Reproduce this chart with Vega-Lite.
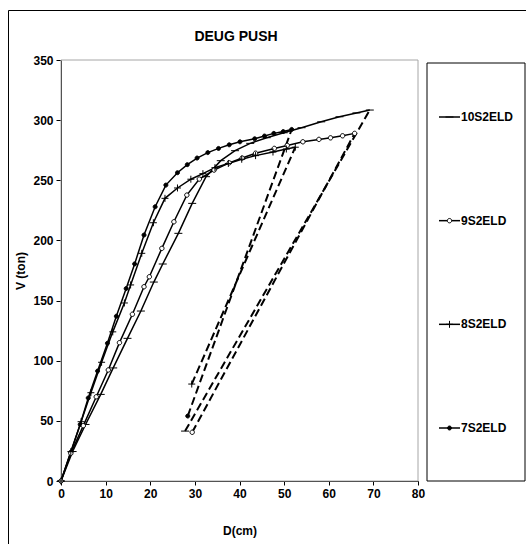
{
  "$schema": "https://vega.github.io/schema/vega-lite/v6.json",
  "width": 518,
  "height": 534,
  "autosize": {"type": "none"},
  "padding": {"left": 8, "top": 10, "right": 0, "bottom": 0},
  "background": "white",
  "title": {"text": "DEUG PUSH", "frame": "group", "anchor": "middle", "orient": "top", "offset": 0, "dx": -31, "dy": 45, "baseline": "alphabetic", "font": "Liberation Sans", "fontSize": 14, "fontWeight": "bold", "color": "black"},
  "datasets": {
    "series": [{"s": "10S2ELD"}, {"s": "9S2ELD"}, {"s": "8S2ELD"}, {"s": "7S2ELD"}],
    "curves": [
      {"s": "7S2ELD", "i": 0, "x": 0, "y": 0},
      {"s": "7S2ELD", "i": 1, "x": 2.2, "y": 24},
      {"s": "7S2ELD", "i": 2, "x": 4.3, "y": 47},
      {"s": "7S2ELD", "i": 3, "x": 6.1, "y": 69},
      {"s": "7S2ELD", "i": 4, "x": 8.2, "y": 91.4},
      {"s": "7S2ELD", "i": 5, "x": 10.4, "y": 114.5},
      {"s": "7S2ELD", "i": 6, "x": 12.4, "y": 137},
      {"s": "7S2ELD", "i": 7, "x": 14.6, "y": 160},
      {"s": "7S2ELD", "i": 8, "x": 16.5, "y": 180.5},
      {"s": "7S2ELD", "i": 9, "x": 18.6, "y": 204.5},
      {"s": "7S2ELD", "i": 10, "x": 21.1, "y": 228},
      {"s": "7S2ELD", "i": 11, "x": 23.5, "y": 246},
      {"s": "7S2ELD", "i": 12, "x": 26.1, "y": 256.3},
      {"s": "7S2ELD", "i": 13, "x": 28.3, "y": 263},
      {"s": "7S2ELD", "i": 14, "x": 30.5, "y": 268.5},
      {"s": "7S2ELD", "i": 15, "x": 32.9, "y": 273},
      {"s": "7S2ELD", "i": 16, "x": 35.3, "y": 276.5},
      {"s": "7S2ELD", "i": 17, "x": 37.7, "y": 279.5},
      {"s": "7S2ELD", "i": 18, "x": 40.1, "y": 282},
      {"s": "7S2ELD", "i": 19, "x": 43.4, "y": 284.5},
      {"s": "7S2ELD", "i": 20, "x": 45.6, "y": 286.8},
      {"s": "7S2ELD", "i": 21, "x": 47.7, "y": 289},
      {"s": "7S2ELD", "i": 22, "x": 49.8, "y": 290.5},
      {"s": "7S2ELD", "i": 23, "x": 51.7, "y": 292.3},
      {"s": "10S2ELD", "i": 0, "x": 0, "y": 0},
      {"s": "10S2ELD", "i": 1, "x": 2.6, "y": 24.5},
      {"s": "10S2ELD", "i": 2, "x": 5.5, "y": 47},
      {"s": "10S2ELD", "i": 3, "x": 8.9, "y": 72},
      {"s": "10S2ELD", "i": 4, "x": 11.7, "y": 94},
      {"s": "10S2ELD", "i": 5, "x": 14.9, "y": 118.6},
      {"s": "10S2ELD", "i": 6, "x": 17.9, "y": 141.3},
      {"s": "10S2ELD", "i": 7, "x": 20.8, "y": 165.4},
      {"s": "10S2ELD", "i": 8, "x": 22.8, "y": 180.4},
      {"s": "10S2ELD", "i": 9, "x": 26.3, "y": 205.9},
      {"s": "10S2ELD", "i": 10, "x": 29.4, "y": 230.8},
      {"s": "10S2ELD", "i": 11, "x": 32.5, "y": 253},
      {"s": "10S2ELD", "i": 12, "x": 35.8, "y": 266.3},
      {"s": "10S2ELD", "i": 13, "x": 39, "y": 274.6},
      {"s": "10S2ELD", "i": 14, "x": 42.4, "y": 280.7},
      {"s": "10S2ELD", "i": 15, "x": 46.1, "y": 285.4},
      {"s": "10S2ELD", "i": 16, "x": 49.9, "y": 289.5},
      {"s": "10S2ELD", "i": 17, "x": 53.9, "y": 293.7},
      {"s": "10S2ELD", "i": 18, "x": 58.3, "y": 298.6},
      {"s": "10S2ELD", "i": 19, "x": 62.4, "y": 302.8},
      {"s": "10S2ELD", "i": 20, "x": 66.2, "y": 306},
      {"s": "10S2ELD", "i": 21, "x": 69.2, "y": 308.4},
      {"s": "9S2ELD", "i": 0, "x": 0, "y": 0},
      {"s": "9S2ELD", "i": 1, "x": 2.2, "y": 23},
      {"s": "9S2ELD", "i": 2, "x": 5, "y": 46},
      {"s": "9S2ELD", "i": 3, "x": 7.9, "y": 70},
      {"s": "9S2ELD", "i": 4, "x": 10.6, "y": 92.3},
      {"s": "9S2ELD", "i": 5, "x": 13.1, "y": 115},
      {"s": "9S2ELD", "i": 6, "x": 16, "y": 138.6},
      {"s": "9S2ELD", "i": 7, "x": 18.6, "y": 161.5},
      {"s": "9S2ELD", "i": 8, "x": 19.8, "y": 169.8},
      {"s": "9S2ELD", "i": 9, "x": 22.6, "y": 193.4},
      {"s": "9S2ELD", "i": 10, "x": 25.3, "y": 215.5},
      {"s": "9S2ELD", "i": 11, "x": 28.2, "y": 237.7},
      {"s": "9S2ELD", "i": 12, "x": 31, "y": 251},
      {"s": "9S2ELD", "i": 13, "x": 34.3, "y": 258.5},
      {"s": "9S2ELD", "i": 14, "x": 37.7, "y": 264.5},
      {"s": "9S2ELD", "i": 15, "x": 40.6, "y": 268.5},
      {"s": "9S2ELD", "i": 16, "x": 43.6, "y": 272.5},
      {"s": "9S2ELD", "i": 17, "x": 47.8, "y": 276.5},
      {"s": "9S2ELD", "i": 18, "x": 50.7, "y": 279},
      {"s": "9S2ELD", "i": 19, "x": 54.2, "y": 282},
      {"s": "9S2ELD", "i": 20, "x": 57.8, "y": 284},
      {"s": "9S2ELD", "i": 21, "x": 60.4, "y": 285.3},
      {"s": "9S2ELD", "i": 22, "x": 63.1, "y": 287},
      {"s": "9S2ELD", "i": 23, "x": 65.8, "y": 289},
      {"s": "8S2ELD", "i": 0, "x": 0, "y": 0},
      {"s": "8S2ELD", "i": 1, "x": 2.2, "y": 24.4},
      {"s": "8S2ELD", "i": 2, "x": 4.5, "y": 49.3},
      {"s": "8S2ELD", "i": 3, "x": 6.7, "y": 73.4},
      {"s": "8S2ELD", "i": 4, "x": 9.1, "y": 98.7},
      {"s": "8S2ELD", "i": 5, "x": 11.6, "y": 124},
      {"s": "8S2ELD", "i": 6, "x": 14.2, "y": 148},
      {"s": "8S2ELD", "i": 7, "x": 15.6, "y": 163},
      {"s": "8S2ELD", "i": 8, "x": 18.1, "y": 189.3},
      {"s": "8S2ELD", "i": 9, "x": 20.7, "y": 214.7},
      {"s": "8S2ELD", "i": 10, "x": 23.3, "y": 235},
      {"s": "8S2ELD", "i": 11, "x": 26.1, "y": 243.6},
      {"s": "8S2ELD", "i": 12, "x": 29.1, "y": 250.9},
      {"s": "8S2ELD", "i": 13, "x": 31.8, "y": 255.5},
      {"s": "8S2ELD", "i": 14, "x": 34.5, "y": 260.5},
      {"s": "8S2ELD", "i": 15, "x": 37.5, "y": 264},
      {"s": "8S2ELD", "i": 16, "x": 40.5, "y": 267.5},
      {"s": "8S2ELD", "i": 17, "x": 43.6, "y": 270.5},
      {"s": "8S2ELD", "i": 18, "x": 47.5, "y": 273.5},
      {"s": "8S2ELD", "i": 19, "x": 50.5, "y": 276},
      {"s": "8S2ELD", "i": 20, "x": 52.5, "y": 277.5}
    ],
    "unload": [
      {"s": "10S2ELD", "pt": "start", "x": 69.2, "y": 308.4},
      {"s": "10S2ELD", "pt": "end", "x": 27.8, "y": 41.5},
      {"s": "9S2ELD", "pt": "start", "x": 65.8, "y": 289},
      {"s": "9S2ELD", "pt": "end", "x": 29.4, "y": 40.5},
      {"s": "8S2ELD", "pt": "start", "x": 52.5, "y": 277.5},
      {"s": "8S2ELD", "pt": "end", "x": 29.3, "y": 80.6},
      {"s": "7S2ELD", "pt": "start", "x": 51.7, "y": 292.3},
      {"s": "7S2ELD", "pt": "end", "x": 28.4, "y": 54}
    ]
  },
  "layer": [
    {
      "layer": [
        {
          "data": {"values": [{"frame": "plot"}]},
          "mark": {"type": "rect", "filled": false, "stroke": "#a6a6a6", "strokeWidth": 1},
          "encoding": {
            "x": {"datum": 0, "type": "quantitative", "scale": {"domain": [0, 80], "range": [53, 410], "nice": false, "zero": false}, "axis": {"title": "D(cm)", "values": [0, 10, 20, 30, 40, 50, 60, 70, 80], "offset": -63, "labelFlush": false}},
            "x2": {"datum": 80},
            "y": {"datum": 0, "type": "quantitative", "scale": {"domain": [0, 350], "range": [471, 50], "nice": false, "zero": false}, "axis": {"title": "V (ton)", "values": [0, 50, 100, 150, 200, 250, 300, 350], "offset": -53, "labelFlush": false}},
            "y2": {"datum": 350}
          }
        },
        {
          "data": {"name": "curves"},
          "mark": {"type": "line", "stroke": "black", "strokeWidth": 1.5},
          "encoding": {
            "x": {"field": "x", "type": "quantitative", "scale": {"domain": [0, 80], "range": [53, 410], "nice": false, "zero": false}, "axis": {"title": "D(cm)", "values": [0, 10, 20, 30, 40, 50, 60, 70, 80], "offset": -63, "labelFlush": false}},
            "y": {"field": "y", "type": "quantitative", "scale": {"domain": [0, 350], "range": [471, 50], "nice": false, "zero": false}, "axis": {"title": "V (ton)", "values": [0, 50, 100, 150, 200, 250, 300, 350], "offset": -53, "labelFlush": false}},
            "detail": {"field": "s", "type": "nominal"},
            "order": {"field": "i", "type": "quantitative"}
          }
        },
        {
          "data": {"name": "unload"},
          "mark": {"type": "line", "stroke": "black", "strokeWidth": 2, "strokeDash": [8, 4]},
          "encoding": {
            "x": {"field": "x", "type": "quantitative", "scale": {"domain": [0, 80], "range": [53, 410], "nice": false, "zero": false}, "axis": {"title": "D(cm)", "values": [0, 10, 20, 30, 40, 50, 60, 70, 80], "offset": -63, "labelFlush": false}},
            "y": {"field": "y", "type": "quantitative", "scale": {"domain": [0, 350], "range": [471, 50], "nice": false, "zero": false}, "axis": {"title": "V (ton)", "values": [0, 50, 100, 150, 200, 250, 300, 350], "offset": -53, "labelFlush": false}},
            "detail": {"field": "s", "type": "nominal"}
          }
        },
        {
          "data": {"name": "curves"},
          "mark": {"type": "point", "stroke": "black", "strokeWidth": 1, "opacity": 1, "size": 64},
          "encoding": {
            "x": {"field": "x", "type": "quantitative", "scale": {"domain": [0, 80], "range": [53, 410], "nice": false, "zero": false}, "axis": {"title": "D(cm)", "values": [0, 10, 20, 30, 40, 50, 60, 70, 80], "offset": -63, "labelFlush": false}},
            "y": {"field": "y", "type": "quantitative", "scale": {"domain": [0, 350], "range": [471, 50], "nice": false, "zero": false}, "axis": {"title": "V (ton)", "values": [0, 50, 100, 150, 200, 250, 300, 350], "offset": -53, "labelFlush": false}},
            "shape": {"field": "s", "type": "nominal", "scale": {"domain": ["10S2ELD", "9S2ELD", "8S2ELD", "7S2ELD"], "range": ["M-1,0H1", "M0.55,0A0.55,0.55,0,1,1,-0.55,0A0.55,0.55,0,1,1,0.55,0Z", "M-0.875,0H0.875M0,-0.875V0.875", "M0.5,0A0.5,0.5,0,1,1,-0.5,0A0.5,0.5,0,1,1,0.5,0Z"]}, "legend": null},
            "fill": {"field": "s", "type": "nominal", "scale": {"domain": ["10S2ELD", "9S2ELD", "8S2ELD", "7S2ELD"], "range": ["black", "white", "black", "black"]}, "legend": null}
          }
        },
        {
          "data": {"name": "unload"},
          "transform": [{"filter": "datum.pt == 'end'"}],
          "mark": {"type": "point", "stroke": "black", "strokeWidth": 1, "opacity": 1, "size": 64},
          "encoding": {
            "x": {"field": "x", "type": "quantitative", "scale": {"domain": [0, 80], "range": [53, 410], "nice": false, "zero": false}, "axis": {"title": "D(cm)", "values": [0, 10, 20, 30, 40, 50, 60, 70, 80], "offset": -63, "labelFlush": false}},
            "y": {"field": "y", "type": "quantitative", "scale": {"domain": [0, 350], "range": [471, 50], "nice": false, "zero": false}, "axis": {"title": "V (ton)", "values": [0, 50, 100, 150, 200, 250, 300, 350], "offset": -53, "labelFlush": false}},
            "shape": {"field": "s", "type": "nominal", "scale": {"domain": ["10S2ELD", "9S2ELD", "8S2ELD", "7S2ELD"], "range": ["M-1,0H1", "M0.55,0A0.55,0.55,0,1,1,-0.55,0A0.55,0.55,0,1,1,0.55,0Z", "M-0.875,0H0.875M0,-0.875V0.875", "M0.5,0A0.5,0.5,0,1,1,-0.5,0A0.5,0.5,0,1,1,0.5,0Z"]}, "legend": null},
            "fill": {"field": "s", "type": "nominal", "scale": {"domain": ["10S2ELD", "9S2ELD", "8S2ELD", "7S2ELD"], "range": ["black", "white", "black", "black"]}, "legend": null}
          }
        }
      ]
    },
    {
      "data": {"name": "series"},
      "encoding": {
        "y": {"field": "s", "type": "nominal", "scale": {"type": "point", "domain": ["10S2ELD", "9S2ELD", "8S2ELD", "7S2ELD"], "range": [107, 418], "padding": 0}, "axis": null}
      },
      "layer": [
        {
          "mark": {"type": "rule", "stroke": "black", "strokeWidth": 1.5},
          "encoding": {
            "x": {"datum": 0, "type": "quantitative", "scale": {"domain": [0, 1], "range": [431, 452], "nice": false, "zero": false}, "axis": null},
            "x2": {"datum": 1}
          }
        },
        {
          "mark": {"type": "point", "stroke": "black", "strokeWidth": 1, "opacity": 1, "size": 64},
          "encoding": {
            "x": {"datum": 0.5, "type": "quantitative", "scale": {"domain": [0, 1], "range": [431, 452], "nice": false, "zero": false}, "axis": null},
            "shape": {"field": "s", "type": "nominal", "scale": {"domain": ["10S2ELD", "9S2ELD", "8S2ELD", "7S2ELD"], "range": ["M-1,0H1", "M0.55,0A0.55,0.55,0,1,1,-0.55,0A0.55,0.55,0,1,1,0.55,0Z", "M-0.875,0H0.875M0,-0.875V0.875", "M0.5,0A0.5,0.5,0,1,1,-0.5,0A0.5,0.5,0,1,1,0.5,0Z"]}, "legend": null},
            "fill": {"field": "s", "type": "nominal", "scale": {"domain": ["10S2ELD", "9S2ELD", "8S2ELD", "7S2ELD"], "range": ["black", "white", "black", "black"]}, "legend": null}
          }
        },
        {
          "mark": {"type": "text", "align": "left", "baseline": "middle", "dx": 1, "font": "Liberation Sans", "fontSize": 12, "fontWeight": "bold", "color": "black"},
          "encoding": {
            "x": {"datum": 1, "type": "quantitative", "scale": {"domain": [0, 1], "range": [431, 452], "nice": false, "zero": false}, "axis": null},
            "text": {"field": "s", "type": "nominal"}
          }
        }
      ]
    },
    {
      "data": {"values": [{"box": "legend"}]},
      "mark": {"type": "rect", "filled": false, "stroke": "black", "strokeWidth": 1},
      "encoding": {
        "x": {"datum": 0, "type": "quantitative", "scale": {"domain": [0, 1], "range": [419, 517], "nice": false, "zero": false}, "axis": null},
        "x2": {"datum": 1},
        "y": {"datum": 0, "type": "quantitative", "scale": {"domain": [0, 1], "range": [471, 53], "nice": false, "zero": false}, "axis": null},
        "y2": {"datum": 1}
      }
    }
  ],
  "resolve": {"scale": {"x": "independent", "y": "independent", "shape": "independent", "fill": "independent"}},
  "config": {
    "font": "Liberation Sans",
    "view": {"stroke": "black", "strokeWidth": 1},
    "axis": {"domainColor": "black", "domainWidth": 1, "tickColor": "black", "tickWidth": 1, "labelColor": "black", "labelFont": "Liberation Sans", "labelFontSize": 12, "labelFontWeight": "bold", "labelPadding": 3, "titleFont": "Liberation Sans", "titleFontSize": 12, "titleFontWeight": "bold", "titleColor": "black", "grid": false, "zindex": 1},
    "axisX": {"tickSize": 4, "titlePadding": 26},
    "axisY": {"tickSize": 5, "titlePadding": 5}
  }
}
